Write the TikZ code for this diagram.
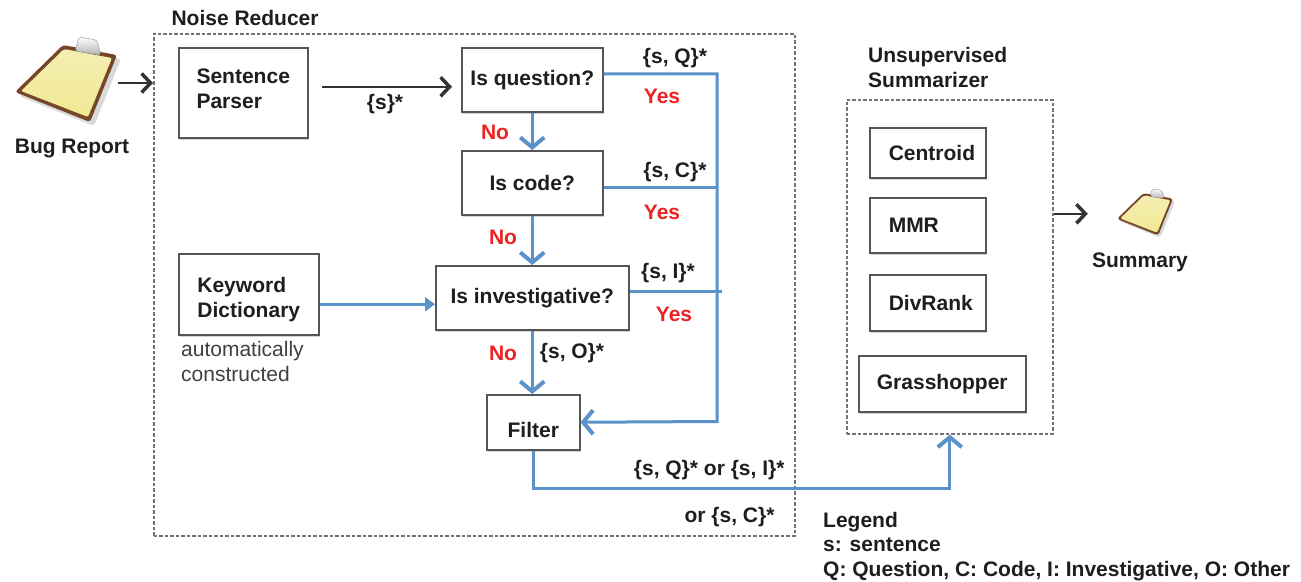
\documentclass[tikz,border=0pt]{standalone}
\usepackage{fontspec}
\setmainfont{Liberation Sans}
\usetikzlibrary{arrows.meta,shadows}
\definecolor{flowblue}{RGB}{91,146,201}
\definecolor{yesred}{RGB}{238,34,34}
\definecolor{boardbrown}{RGB}{118,70,42}
\definecolor{paperyellow}{RGB}{240,232,145}
\definecolor{edgegray}{RGB}{85,85,85}
\definecolor{inkgray}{RGB}{30,30,30}

\tikzset{
  pics/clipboard/.style={code={
    % soft shadow under the board
    \fill[black, opacity=.15, rounded corners=3pt]
      (1,-34) -- (55,-24) -- (28,43) -- (-47,13) -- cycle;
    % board
    \fill[boardbrown, rounded corners=3pt]
      (-3,-38) -- (51,-28) -- (24,39) -- (-51,9) -- cycle;
    % paper
    \shade[top color=paperyellow!70!white, bottom color=paperyellow, rounded corners=2pt]
      (-2,-34) -- (46,-25) -- (22,34) -- (-45,8) -- cycle;
    % metal clip
    \shade[top color=white, bottom color=gray!60, draw=gray!75, line width=.5pt, rounded corners=3pt]
      (13,-46) -- (31,-43) -- (35,-28) -- (9,-32) -- cycle;
  }}
}

\begin{document}
\begin{tikzpicture}[x=1pt,y=-1pt,
  every node/.style={font=\fontsize{21}{25}\selectfont\bfseries, text=inkgray},
  box/.style={draw=edgegray, line width=1.5pt, fill=white, anchor=north west, inner sep=0pt,
    drop shadow={shadow xshift=1.5pt, shadow yshift=-2pt, opacity=.18, fill=black}},
  group/.style={draw=black!55, line width=1.6pt, dash pattern=on 3.5pt off 2pt,
    anchor=north west, inner sep=0pt},
  flow/.style={draw=flowblue, line width=3pt},
  flowarrow/.style={flow, -{Straight Barb[length=10pt,width=24pt,line width=4pt]}},
  feedarrow/.style={flow, -{Triangle[length=10pt,width=14pt]}},
  feed/.style={draw=black!80, line width=1.8pt,
    -{Straight Barb[length=9pt,width=19pt,line width=3.5pt]}},
  ans/.style={text=yesred},
  note/.style={font=\fontsize{21}{25}\selectfont, text=black!75},
]
\useasboundingbox (0,0) rectangle (1301,581);

% ---------- grouping frames ----------
\node[group, minimum width=641pt, minimum height=502pt] (nr) at (153,33) {};
\node[anchor=west] (nrlabel) at (168,18) {Noise Reducer};
\node[group, minimum width=206pt, minimum height=334pt] (us) at (846,99) {};
\node[anchor=west, align=left, inner sep=0pt] (uslabel) at (868,67.5) {Unsupervised\\Summarizer};

% ---------- input and output documents ----------
\pic at (66,83) {clipboard};
\node[minimum width=104pt, minimum height=84pt] (bug) at (66,83) {};
\node (buglabel) at (72,148) {Bug Report};
\pic[scale=.55] at (1145,214) {clipboard};
\node[minimum width=58pt, minimum height=46pt] (sum) at (1145,214) {};
\node (sumlabel) at (1140,262) {Summary};

% ---------- noise reducer ----------
\node[box, minimum width=129pt, minimum height=90pt,
  label={[yshift=4pt, align=left]center:Sentence\\Parser}] (sp) at (178,47) {};
\node[box, minimum width=140pt, minimum height=81pt,
  label={[yshift=-5pt, align=left]center:Keyword\\Dictionary}] (kd) at (178,253) {};
\node[note, anchor=north west, align=left, inner sep=0pt] (kdnote) at (181,341) {automatically\\constructed};

\node[box, minimum width=141pt, minimum height=64pt] (q) at (461,47) {Is question?};
\node[box, minimum width=141pt, minimum height=64pt] (c) at (461,150) {Is code?};
\node[box, minimum width=193pt, minimum height=64pt] (inv) at (435,265) {Is investigative?};
\node[box, minimum width=93pt, minimum height=55pt, label={[yshift=-8pt]center:Filter}] (filter) at (486,394) {};

% ---------- summarizer ----------
\node[box, minimum width=116pt, minimum height=50pt, text width=78pt, align=left] (cen) at (869,127) {Centroid};
\node[box, minimum width=116pt, minimum height=55pt, text width=78pt, align=left] (mmr) at (869,197) {MMR};
\node[box, minimum width=116pt, minimum height=56pt, text width=78pt, align=left] (div) at (869,274) {DivRank};
\node[box, minimum width=167pt, minimum height=56pt] (gh) at (858,355) {Grasshopper};

% ---------- black feed arrows ----------
\draw[feed] (bug.east) -- (bug.east -| nr.west);
\coordinate (spout) at ([xshift=13pt, yshift=6pt]sp.east);
\coordinate (qin) at ([xshift=-9pt]q.west);
\draw[feed] (spout) -- (spout -| qin);
\node (sflow) at (385,104) {\{s\}*};
\coordinate (usout) at ([yshift=53pt]us.east);
\coordinate (sumin) at ([xshift=-28pt]sum.west);
\draw[feed] (usout) -- (usout -| sumin);

% ---------- blue decision flow ----------
\coordinate (bus) at (717,421.5);
\coordinate (qy) at ([yshift=6pt]q.east);
\coordinate (cy) at ([yshift=-5pt]c.east);
\coordinate (iy) at ([yshift=6pt]inv.east);
\coordinate (kdy) at ([yshift=-10pt]kd.east);
\path (iy -| bus) coordinate (busi);
\coordinate (low) at (0,488);

\draw[flowarrow] (qy) -| (bus) -- (filter.east);
\draw[flow] (cy) -- (cy -| bus);
\draw[flow] (iy) -- ([xshift=5pt]busi);
\draw[flowarrow] (q.south) -- (c.north);
\draw[flowarrow] (c.south) -- (c.south |- inv.north);
\draw[flowarrow] (inv.south) -- (inv.south |- filter.north);
\draw[feedarrow] (kdy) -- (kdy -| inv.west);
\draw[flowarrow] (filter.south) |- (low -| us.south) -- (us.south);

% ---------- flow labels ----------
\node (lq) at (675,58) {\{s, Q\}*};
\node[ans] (yq) at (662,96) {Yes};
\node[ans] (nq) at (495,132) {No};
\node (lc) at (675,172) {\{s, C\}*};
\node[ans] (yc) at (662,212) {Yes};
\node[ans] (nc) at (503,237) {No};
\node (li) at (668,273) {\{s, I\}*};
\node[ans] (yi) at (674,314) {Yes};
\node[ans] (ni) at (503,353) {No};
\node (lo) at (572,353) {\{s, O\}*};
\node[anchor=east] (lout1) at (788,470) {\{s, Q\}* or \{s, I\}*};
\node[anchor=east] (lout2) at (778,517) {or \{s, C\}*};

% ---------- legend ----------
\node[anchor=north west, align=left, inner sep=0pt, font=\fontsize{21}{24.5}\selectfont\bfseries]
  (legend) at (823,512) {Legend\\s: sentence\\Q: Question, C: Code, I: Investigative, O: Other};
\end{tikzpicture}
\end{document}
